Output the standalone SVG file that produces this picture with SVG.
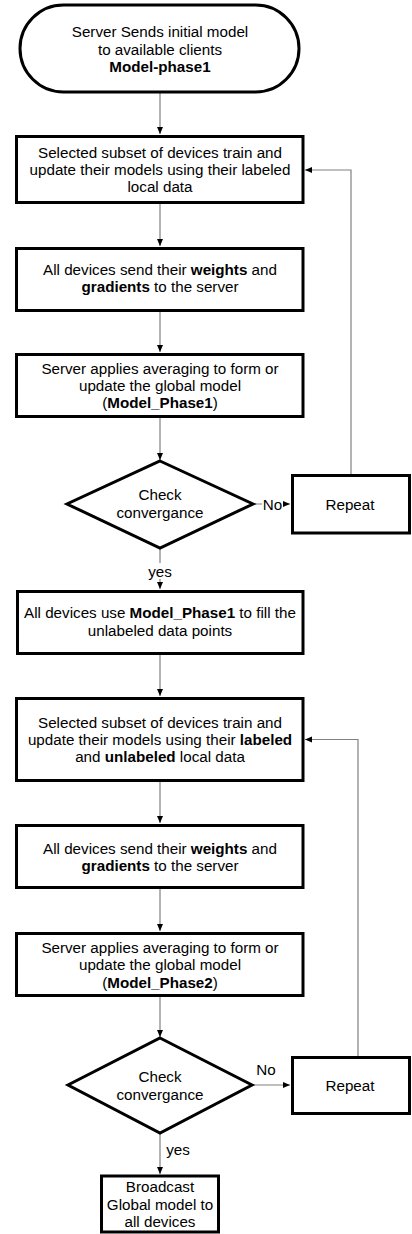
<svg xmlns="http://www.w3.org/2000/svg" width="412" height="1234" viewBox="0 0 412 1234">
<style>
.n{fill:#fff;stroke:#000;stroke-width:3}
.t{font-family:"Liberation Sans",Arial,sans-serif;font-size:15.2px;fill:#000;text-anchor:middle}
.b{font-weight:bold}
.c{fill:none;stroke:#808080;stroke-width:1.2}
.lb{fill:#fff;stroke:none}
</style>
<defs>
<marker id="ah" markerUnits="userSpaceOnUse" markerWidth="7" markerHeight="7" refX="7" refY="3.5" orient="auto">
<path d="M0,0.5 L7,3.5 L0,6.5 z" fill="#000"/>
</marker>
</defs>
<rect width="412" height="1234" fill="#fff"/>
<g id="connectors">
<path class="c" d="M160,93 V134" marker-end="url(#ah)"/>
<path class="c" d="M160,204 V246" marker-end="url(#ah)"/>
<path class="c" d="M160,312 V352" marker-end="url(#ah)"/>
<path class="c" d="M160,418 V460" marker-end="url(#ah)"/>
<path class="c" d="M253,504 H290" marker-end="url(#ah)"/>
<path class="c" d="M351,474 V170 H305" marker-end="url(#ah)"/>
<path class="c" d="M160,548 V589" marker-end="url(#ah)"/>
<path class="c" d="M160,655 V696" marker-end="url(#ah)"/>
<path class="c" d="M160,782 V823" marker-end="url(#ah)"/>
<path class="c" d="M160,889 V931" marker-end="url(#ah)"/>
<path class="c" d="M160,997 V1037" marker-end="url(#ah)"/>
<path class="c" d="M252,1085 H290" marker-end="url(#ah)"/>
<path class="c" d="M358,1056 V739.5 H305" marker-end="url(#ah)"/>
<path class="c" d="M160,1133 V1174" marker-end="url(#ah)"/>
<rect class="lb" x="262" y="496" width="21" height="16"/>
<text class="t" x="272.5" y="509.5">No</text>
<rect class="lb" x="148" y="563" width="24" height="16"/>
<text class="t" x="160" y="577">yes</text>
<text class="t" x="266" y="1075">No</text>
<text class="t" x="178" y="1155">yes</text>
</g>
<g id="start">
<rect class="n" x="20" y="5" width="279" height="87" rx="43.5" ry="43.5" stroke-width="2.5"/>
<text class="t" x="160" y="37">Server Sends initial model</text>
<text class="t" x="160" y="54.5">to available clients</text>
<text class="t b" x="160" y="72">Model-phase1</text>
</g>
<g id="train1">
<rect class="n" x="16.5" y="136.5" width="286.5" height="66"/>
<text class="t" x="160" y="158">Selected subset of devices train and</text>
<text class="t" x="160" y="175">update their models using their labeled</text>
<text class="t" x="160" y="192">local data</text>
</g>
<g id="send1">
<rect class="n" x="16.5" y="248.5" width="286.5" height="62"/>
<text class="t" x="160" y="275">All devices send their <tspan class="b">weights</tspan> and</text>
<text class="t" x="160" y="292"><tspan class="b">gradients</tspan> to the server</text>
</g>
<g id="avg1">
<rect class="n" x="16.5" y="354.5" width="286.5" height="62"/>
<text class="t" x="160" y="374">Server applies averaging to form or</text>
<text class="t" x="160" y="391">update the global model</text>
<text class="t" x="160" y="408">(<tspan class="b">Model_Phase1</tspan>)</text>
</g>
<g id="check1">
<polygon class="n" points="160,461 253,504 160,548 67,504"/>
<text class="t" x="160" y="500">Check</text>
<text class="t" x="160" y="518">convergance</text>
</g>
<g id="repeat1">
<rect class="n" x="292.5" y="475.5" width="117" height="57.5"/>
<text class="t" x="350" y="509.5">Repeat</text>
</g>
<g id="fill">
<rect class="n" x="17.5" y="591.5" width="285.5" height="62"/>
<text class="t" x="160" y="618">All devices use <tspan class="b">Model_Phase1</tspan> to fill the</text>
<text class="t" x="160" y="636">unlabeled data points</text>
</g>
<g id="train2">
<rect class="n" x="16.5" y="698.5" width="286.5" height="82"/>
<text class="t" x="160" y="727.5">Selected subset of devices train and</text>
<text class="t" x="160" y="744.5">update their models using their <tspan class="b">labeled</tspan></text>
<text class="t" x="160" y="762">and <tspan class="b">unlabeled</tspan> local data</text>
</g>
<g id="send2">
<rect class="n" x="16.5" y="825.5" width="286.5" height="62"/>
<text class="t" x="160" y="854">All devices send their <tspan class="b">weights</tspan> and</text>
<text class="t" x="160" y="871"><tspan class="b">gradients</tspan> to the server</text>
</g>
<g id="avg2">
<rect class="n" x="16.5" y="933.5" width="286.5" height="62"/>
<text class="t" x="160" y="953">Server applies averaging to form or</text>
<text class="t" x="160" y="970">update the global model</text>
<text class="t" x="160" y="988">(<tspan class="b">Model_Phase2</tspan>)</text>
</g>
<g id="check2">
<polygon class="n" points="160,1038 252,1085 160,1133 68,1085"/>
<text class="t" x="160" y="1082">Check</text>
<text class="t" x="160" y="1100">convergance</text>
</g>
<g id="repeat2">
<rect class="n" x="292.5" y="1057.5" width="117" height="56"/>
<text class="t" x="350" y="1091">Repeat</text>
</g>
<g id="broadcast">
<rect class="n" x="101.5" y="1176" width="117" height="56" stroke-width="2.5"/>
<text class="t" x="160" y="1192">Broadcast</text>
<text class="t" x="160" y="1210">Global model to</text>
<text class="t" x="160" y="1227">all devices</text>
</g>
</svg>
